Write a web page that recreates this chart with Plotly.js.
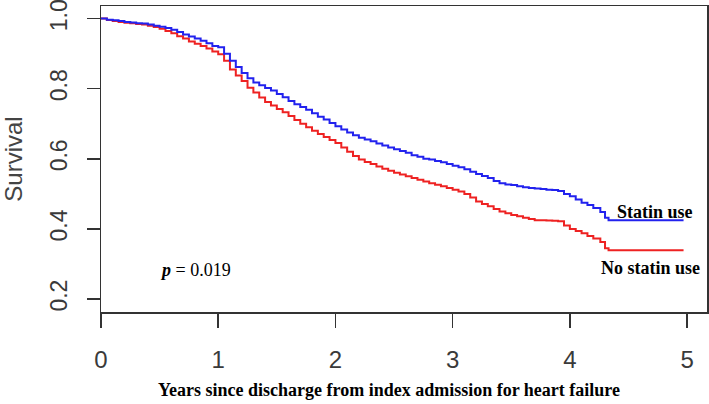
<!DOCTYPE html>
<html>
<head>
<meta charset="utf-8">
<script src="https://cdn.plot.ly/plotly-3.0.1.min.js"></script>
<style>html,body{margin:0;padding:0;background:#fff;}#chart{width:709px;height:404px;}</style>
</head>
<body>
<div id="chart"></div>
<script>
// Years since discharge
var years = [0, 0.05, 0.1, 0.15, 0.2, 0.25, 0.3, 0.35, 0.4, 0.45, 0.5, 0.55, 0.6, 0.65, 0.7, 0.75, 0.8, 0.85, 0.9, 0.95,
  1.0, 1.05, 1.1, 1.15, 1.2, 1.25, 1.3, 1.35, 1.4, 1.45, 1.5, 1.55, 1.6, 1.65, 1.7, 1.75, 1.8, 1.85, 1.9, 1.95,
  2.0, 2.05, 2.1, 2.15, 2.2, 2.25, 2.3, 2.35, 2.4, 2.45, 2.5, 2.55, 2.6, 2.65, 2.7, 2.75, 2.8, 2.85, 2.9, 2.95,
  3.0, 3.05, 3.1, 3.15, 3.2, 3.25, 3.3, 3.35, 3.4, 3.45, 3.5, 3.55, 3.6, 3.65, 3.7, 3.75, 3.8, 3.85, 3.9, 3.95,
  4.0, 4.05, 4.1, 4.15, 4.2, 4.26, 4.3, 4.33, 4.97];

var statinSurv = [1.0, 0.997, 0.995, 0.993, 0.99, 0.989, 0.987, 0.986, 0.983, 0.98, 0.977, 0.973, 0.968, 0.962, 0.955, 0.949, 0.943, 0.937, 0.93, 0.922,
  0.918, 0.90, 0.88, 0.862, 0.845, 0.83, 0.818, 0.81, 0.802, 0.795, 0.785, 0.776, 0.765, 0.756, 0.748, 0.74, 0.73, 0.72, 0.712, 0.702,
  0.693, 0.684, 0.675, 0.667, 0.66, 0.655, 0.65, 0.644, 0.638, 0.632, 0.627, 0.622, 0.617, 0.61, 0.606, 0.60, 0.598, 0.594, 0.59, 0.585,
  0.58, 0.576, 0.57, 0.563, 0.557, 0.551, 0.545, 0.537, 0.53, 0.527, 0.525, 0.522, 0.519, 0.517, 0.515, 0.514, 0.512, 0.511, 0.508, 0.50,
  0.493, 0.484, 0.475, 0.468, 0.46, 0.448, 0.432, 0.425, 0.425];

var noStatinSurv = [1.0, 0.996, 0.993, 0.99, 0.988, 0.987, 0.985, 0.983, 0.98, 0.976, 0.971, 0.965, 0.958, 0.95, 0.943, 0.935, 0.928, 0.922, 0.915, 0.906,
  0.898, 0.88, 0.855, 0.838, 0.822, 0.803, 0.789, 0.775, 0.762, 0.752, 0.742, 0.733, 0.722, 0.711, 0.70, 0.69, 0.68, 0.671, 0.662, 0.654,
  0.645, 0.632, 0.62, 0.608, 0.598, 0.591, 0.585, 0.578, 0.572, 0.566, 0.56, 0.555, 0.55, 0.545, 0.54, 0.535, 0.53, 0.526, 0.522, 0.517,
  0.512, 0.507, 0.50, 0.49, 0.478, 0.471, 0.465, 0.457, 0.45, 0.445, 0.44, 0.436, 0.432, 0.428, 0.425, 0.425, 0.424, 0.423, 0.422, 0.41,
  0.40, 0.394, 0.388, 0.38, 0.373, 0.363, 0.345, 0.339, 0.339];

var xTicks = [0, 1, 2, 3, 4, 5];
var yTicks = [0.2, 0.4, 0.6, 0.8, 1.0];
var yTickText = ["0.2", "0.4", "0.6", "0.8", "1.0"];

var traces = [
  {x: years, y: noStatinSurv, type: 'scatter', mode: 'lines', name: 'No statin use',
   line: {shape: 'hv', color: '#ee2222', width: 2}},
  {x: years, y: statinSurv, type: 'scatter', mode: 'lines', name: 'Statin use',
   line: {shape: 'hv', color: '#2222ee', width: 2}}
];

var serif = 'Liberation Serif, Times New Roman, serif';
var sans = 'Liberation Sans, Arial, sans-serif';

var layout = {
  width: 709, height: 404,
  margin: {l: 101, r: 2, t: 6, b: 92, pad: 0},
  paper_bgcolor: '#fff', plot_bgcolor: '#fff',
  showlegend: false,
  xaxis: {
    range: [0, 5.17], tickvals: xTicks, ticktext: xTicks.map(String),
    showgrid: false, zeroline: false,
    showline: true, mirror: true, linecolor: '#333', linewidth: 1.5,
    ticks: 'outside', ticklen: 14, tickwidth: 1.5, tickcolor: '#333',
    ticklabelstandoff: 12,
    tickfont: {family: sans, size: 24, color: '#3a3a3a'},
    automargin: false
  },
  yaxis: {
    range: [0.163, 1.036], tickvals: yTicks, ticktext: yTickText,
    showgrid: false, zeroline: false,
    showline: true, mirror: true, linecolor: '#333', linewidth: 1.5,
    ticks: 'outside', ticklen: 13, tickwidth: 1.5, tickcolor: '#333',
    tickangle: -90, ticklabelstandoff: 10, ticklabeloverflow: 'allow',
    tickfont: {family: sans, size: 23, color: '#3a3a3a'},
    automargin: false,
    title: {text: 'Survival', font: {family: sans, size: 24, color: '#444'}, standoff: 28}
  },
  annotations: [
    {x: 0.475, y: -0.255, xref: 'paper', yref: 'paper', showarrow: false,
     text: '<b>Years since discharge from index admission for heart failure</b>',
     xanchor: 'center', yanchor: 'middle', font: {family: serif, size: 18, color: '#000'}},
    {x: 4.727, y: 0.448, xref: 'x', yref: 'y', text: '<b>Statin use</b>', showarrow: false,
     xanchor: 'center', yanchor: 'middle', font: {family: serif, size: 18, color: '#000'}},
    {x: 4.69, y: 0.2886, xref: 'x', yref: 'y', text: '<b>No statin use</b>', showarrow: false,
     xanchor: 'center', yanchor: 'middle', font: {family: serif, size: 18, color: '#000'}},
    {x: 0.486, y: 0.283, xref: 'x', yref: 'y', text: '<b><i>p</i></b> = 0.019', showarrow: false,
     xanchor: 'left', yanchor: 'middle', font: {family: serif, size: 18, color: '#000'}}
  ]
};

Plotly.newPlot('chart', traces, layout, {staticPlot: true, displayModeBar: false});
</script>
</body>
</html>
